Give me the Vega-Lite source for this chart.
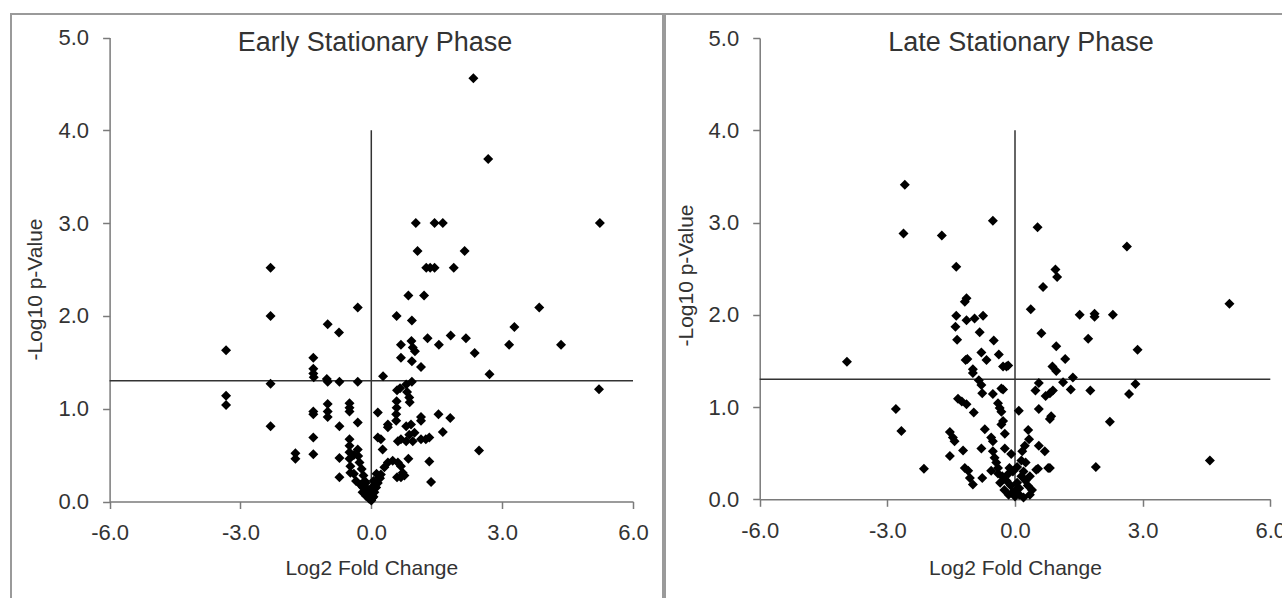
{
"$schema": "https://vega.github.io/schema/vega-lite/v6.json",
"padding": {"left": 10, "top": 13, "right": 0, "bottom": 0},
"spacing": 0,
"config": {
  "font": "Liberation Sans, Arial, sans-serif",
  "axis": {"labelFont": "Liberation Sans, Arial, sans-serif", "labelFontSize": 22, "labelColor": "#333333", "titleFont": "Liberation Sans, Arial, sans-serif", "titleFontSize": 21, "titleFontWeight": "normal", "titleColor": "#333333", "domainColor": "#7a7a7a", "domainWidth": 1.5, "tickColor": "#7a7a7a", "tickWidth": 1.5, "tickSize": 7, "grid": false, "labelFlush": false, "labelOverlap": false},
  "title": {"font": "Liberation Sans, Arial, sans-serif", "fontSize": 27, "fontWeight": "normal", "color": "#333333"}
},
"datasets": {
"early": [
{"lfc":2.34,"nlp":4.56},{"lfc":2.68,"nlp":3.69},{"lfc":5.24,"nlp":3.0},{"lfc":1.02,"nlp":3.0},{"lfc":1.45,"nlp":3.0},{"lfc":1.64,"nlp":3.0},{"lfc":1.06,"nlp":2.70},{"lfc":2.14,"nlp":2.70},{"lfc":1.26,"nlp":2.52},{"lfc":1.35,"nlp":2.52},{"lfc":1.45,"nlp":2.52},{"lfc":1.89,"nlp":2.52},{"lfc":-2.31,"nlp":2.52},{"lfc":0.85,"nlp":2.22},{"lfc":1.21,"nlp":2.22},{"lfc":-0.31,"nlp":2.09},{"lfc":3.85,"nlp":2.09},{"lfc":-2.31,"nlp":2.00},{"lfc":0.58,"nlp":2.00},{"lfc":0.93,"nlp":1.95},{"lfc":-1.00,"nlp":1.91},{"lfc":-0.74,"nlp":1.82},{"lfc":3.28,"nlp":1.88},{"lfc":-3.33,"nlp":1.63},{"lfc":1.29,"nlp":1.76},{"lfc":1.55,"nlp":1.69},{"lfc":1.82,"nlp":1.79},{"lfc":2.17,"nlp":1.76},{"lfc":2.37,"nlp":1.60},{"lfc":3.16,"nlp":1.69},{"lfc":4.35,"nlp":1.69},{"lfc":0.68,"nlp":1.69},{"lfc":0.92,"nlp":1.73},{"lfc":0.95,"nlp":1.66},{"lfc":1.0,"nlp":1.62},{"lfc":0.68,"nlp":1.55},{"lfc":0.93,"nlp":1.51},{"lfc":1.14,"nlp":1.45},{"lfc":0.27,"nlp":1.35},{"lfc":2.71,"nlp":1.37},{"lfc":5.22,"nlp":1.21},
{"lfc":-1.33,"nlp":1.55},{"lfc":-1.33,"nlp":1.43},{"lfc":-1.33,"nlp":1.38},{"lfc":-1.32,"nlp":1.34},{"lfc":-1.02,"nlp":1.32},{"lfc":-1.0,"nlp":1.29},{"lfc":-0.73,"nlp":1.29},{"lfc":-0.31,"nlp":1.29},{"lfc":-2.31,"nlp":1.27},{"lfc":-3.33,"nlp":1.14},{"lfc":-3.33,"nlp":1.04},
{"lfc":0.93,"nlp":1.29},{"lfc":0.80,"nlp":1.26},{"lfc":0.66,"nlp":1.22},{"lfc":0.59,"nlp":1.20},{"lfc":0.82,"nlp":1.18},{"lfc":0.87,"nlp":1.12},{"lfc":0.58,"nlp":1.08},{"lfc":0.88,"nlp":1.07},{"lfc":0.58,"nlp":1.01},{"lfc":0.57,"nlp":0.94},{"lfc":0.57,"nlp":0.87},
{"lfc":1.14,"nlp":0.91},{"lfc":1.14,"nlp":0.87},{"lfc":1.54,"nlp":0.94},{"lfc":1.81,"nlp":0.90},{"lfc":1.64,"nlp":0.75},
{"lfc":-1.00,"nlp":1.05},{"lfc":-1.00,"nlp":0.97},{"lfc":-1.00,"nlp":0.91},{"lfc":-1.33,"nlp":0.97},{"lfc":-1.33,"nlp":0.94},
{"lfc":-0.50,"nlp":1.06},{"lfc":-0.50,"nlp":1.01},{"lfc":-0.50,"nlp":0.97},{"lfc":-0.31,"nlp":0.85},{"lfc":-0.73,"nlp":0.81},{"lfc":-2.31,"nlp":0.81},{"lfc":-1.33,"nlp":0.69},{"lfc":-1.33,"nlp":0.51},{"lfc":-1.74,"nlp":0.52},{"lfc":-1.74,"nlp":0.46},
{"lfc":0.15,"nlp":0.96},{"lfc":0.38,"nlp":0.83},{"lfc":0.38,"nlp":0.80},{"lfc":0.80,"nlp":0.81},{"lfc":0.91,"nlp":0.83},{"lfc":0.99,"nlp":0.74},{"lfc":0.87,"nlp":0.72},{"lfc":0.68,"nlp":0.67},{"lfc":0.61,"nlp":0.65},{"lfc":0.80,"nlp":0.65},{"lfc":0.95,"nlp":0.65},{"lfc":1.14,"nlp":0.67},{"lfc":1.25,"nlp":0.67},{"lfc":1.33,"nlp":0.69},{"lfc":0.15,"nlp":0.69},{"lfc":0.22,"nlp":0.67},{"lfc":0.26,"nlp":0.56},
{"lfc":0.85,"nlp":0.46},{"lfc":1.33,"nlp":0.43},{"lfc":1.37,"nlp":0.21},{"lfc":2.47,"nlp":0.55},
{"lfc":-0.73,"nlp":0.47},{"lfc":-0.73,"nlp":0.26},
{"lfc":-0.50,"nlp":0.67},{"lfc":-0.50,"nlp":0.60},{"lfc":-0.50,"nlp":0.53},{"lfc":-0.50,"nlp":0.46},{"lfc":-0.48,"nlp":0.38},{"lfc":-0.48,"nlp":0.31},
{"lfc":-0.31,"nlp":0.56},{"lfc":-0.30,"nlp":0.49},{"lfc":-0.27,"nlp":0.42},{"lfc":-0.22,"nlp":0.35},{"lfc":-0.18,"nlp":0.28},{"lfc":-0.13,"nlp":0.20},{"lfc":-0.10,"nlp":0.14},
{"lfc":-0.08,"nlp":0.12},{"lfc":-0.01,"nlp":0.08},{"lfc":0.03,"nlp":0.04},{"lfc":0.07,"nlp":0.10},{"lfc":0.11,"nlp":0.15},{"lfc":0.15,"nlp":0.20},{"lfc":0.18,"nlp":0.26},{"lfc":0.22,"nlp":0.29},{"lfc":0.30,"nlp":0.37},{"lfc":0.38,"nlp":0.42},{"lfc":0.49,"nlp":0.44},{"lfc":0.61,"nlp":0.42},{"lfc":0.68,"nlp":0.38},{"lfc":0.72,"nlp":0.31},{"lfc":0.68,"nlp":0.26},{"lfc":0.76,"nlp":0.28},{"lfc":0.59,"nlp":0.26},
{"lfc":-0.05,"nlp":0.03},{"lfc":0.0,"nlp":0.01},{"lfc":0.05,"nlp":0.05},{"lfc":-0.19,"nlp":0.15},{"lfc":0.03,"nlp":0.16},{"lfc":0.12,"nlp":0.30},{"lfc":0.20,"nlp":0.25},{"lfc":0.05,"nlp":0.22},{"lfc":-0.04,"nlp":0.06},{"lfc":0.02,"nlp":0.10},{"lfc":-0.15,"nlp":0.22},
{"lfc":-0.40,"nlp":0.50},{"lfc":-0.40,"nlp":0.30},{"lfc":-0.35,"nlp":0.22},{"lfc":-0.25,"nlp":0.18},{"lfc":-0.20,"nlp":0.10},{"lfc":-0.12,"nlp":0.06}
],
"late": [
{"lfc":-2.59,"nlp":3.41},{"lfc":-2.62,"nlp":2.88},{"lfc":-1.72,"nlp":2.86},{"lfc":-0.52,"nlp":3.02},{"lfc":0.53,"nlp":2.95},{"lfc":2.63,"nlp":2.74},{"lfc":-1.38,"nlp":2.52},{"lfc":0.95,"nlp":2.49},{"lfc":0.99,"nlp":2.41},{"lfc":0.66,"nlp":2.30},{"lfc":-1.14,"nlp":2.18},{"lfc":-1.18,"nlp":2.14},{"lfc":5.04,"nlp":2.12},{"lfc":0.37,"nlp":2.06},
{"lfc":-1.38,"nlp":1.99},{"lfc":-1.14,"nlp":1.94},{"lfc":-0.95,"nlp":1.96},{"lfc":-0.75,"nlp":1.99},{"lfc":-1.40,"nlp":1.87},{"lfc":-1.36,"nlp":1.73},{"lfc":-0.83,"nlp":1.81},{"lfc":-0.50,"nlp":1.72},{"lfc":-1.16,"nlp":1.51},{"lfc":-1.12,"nlp":1.52},{"lfc":-0.79,"nlp":1.59},{"lfc":-0.67,"nlp":1.51},{"lfc":-0.38,"nlp":1.57},{"lfc":-0.28,"nlp":1.44},{"lfc":-0.16,"nlp":1.45},{"lfc":-0.99,"nlp":1.41},{"lfc":-3.95,"nlp":1.49},
{"lfc":0.62,"nlp":1.80},{"lfc":1.52,"nlp":2.00},{"lfc":1.87,"nlp":1.98},{"lfc":1.87,"nlp":2.01},{"lfc":2.30,"nlp":2.00},{"lfc":1.72,"nlp":1.74},{"lfc":0.97,"nlp":1.66},{"lfc":2.88,"nlp":1.62},{"lfc":1.18,"nlp":1.52},{"lfc":0.88,"nlp":1.44},{"lfc":0.97,"nlp":1.39},{"lfc":1.36,"nlp":1.32},{"lfc":1.13,"nlp":1.27},{"lfc":1.31,"nlp":1.19},{"lfc":0.56,"nlp":1.26},{"lfc":0.48,"nlp":1.18},{"lfc":0.89,"nlp":1.18},{"lfc":0.82,"nlp":1.15},{"lfc":0.72,"nlp":1.12},{"lfc":1.77,"nlp":1.18},{"lfc":2.83,"nlp":1.25},{"lfc":2.68,"nlp":1.14},{"lfc":2.23,"nlp":0.84},{"lfc":0.56,"nlp":0.98},{"lfc":0.85,"nlp":0.90},{"lfc":0.82,"nlp":0.87},{"lfc":0.09,"nlp":0.96},{"lfc":-0.20,"nlp":1.44},{"lfc":-0.28,"nlp":1.19},
{"lfc":-2.80,"nlp":0.98},{"lfc":-2.67,"nlp":0.74},{"lfc":-2.14,"nlp":0.33},{"lfc":-1.34,"nlp":1.09},{"lfc":-1.25,"nlp":1.06},{"lfc":-1.14,"nlp":1.03},{"lfc":-0.97,"nlp":0.94},{"lfc":-1.53,"nlp":0.73},{"lfc":-1.46,"nlp":0.67},{"lfc":-1.42,"nlp":0.63},{"lfc":-1.53,"nlp":0.47},{"lfc":-1.22,"nlp":0.53},{"lfc":-1.18,"nlp":0.34},{"lfc":-1.10,"nlp":0.31},{"lfc":-1.06,"nlp":0.23},{"lfc":-0.99,"nlp":0.16},{"lfc":-0.77,"nlp":0.23},
{"lfc":-0.99,"nlp":1.37},{"lfc":-0.85,"nlp":1.29},{"lfc":-0.79,"nlp":1.24},{"lfc":-0.77,"nlp":1.15},{"lfc":-0.52,"nlp":1.14},{"lfc":-0.32,"nlp":1.20},{"lfc":-0.40,"nlp":1.04},{"lfc":-0.36,"nlp":0.99},{"lfc":-0.32,"nlp":0.95},{"lfc":-0.28,"nlp":0.85},{"lfc":-0.32,"nlp":0.81},{"lfc":-0.71,"nlp":0.76},{"lfc":-0.56,"nlp":0.67},{"lfc":-0.52,"nlp":0.63},{"lfc":-0.24,"nlp":0.71},{"lfc":-0.79,"nlp":0.55},{"lfc":-0.24,"nlp":0.55},{"lfc":-0.52,"nlp":0.52},{"lfc":-0.48,"nlp":0.45},{"lfc":-0.44,"nlp":0.40},{"lfc":-0.40,"nlp":0.34},{"lfc":-0.56,"nlp":0.31},{"lfc":-0.09,"nlp":0.49},
{"lfc":0.31,"nlp":0.75},{"lfc":0.33,"nlp":0.65},{"lfc":0.23,"nlp":0.58},{"lfc":0.17,"nlp":0.52},{"lfc":0.56,"nlp":0.58},{"lfc":0.70,"nlp":0.52},{"lfc":0.15,"nlp":0.42},{"lfc":0.50,"nlp":0.32},{"lfc":0.78,"nlp":0.34},
{"lfc":1.90,"nlp":0.35},{"lfc":4.58,"nlp":0.42},{"lfc":0.82,"nlp":0.34},{"lfc":0.54,"nlp":0.33},{"lfc":-0.13,"nlp":0.34},
{"lfc":-0.30,"nlp":0.25},{"lfc":-0.20,"nlp":0.20},{"lfc":-0.15,"nlp":0.28},{"lfc":-0.10,"nlp":0.15},{"lfc":-0.05,"nlp":0.08},{"lfc":0.0,"nlp":0.03},{"lfc":0.02,"nlp":0.10},{"lfc":0.05,"nlp":0.18},{"lfc":0.10,"nlp":0.12},{"lfc":0.15,"nlp":0.25},{"lfc":0.20,"nlp":0.30},{"lfc":0.25,"nlp":0.20},{"lfc":0.30,"nlp":0.15},{"lfc":0.35,"nlp":0.25},{"lfc":0.40,"nlp":0.10},{"lfc":-0.25,"nlp":0.10},{"lfc":-0.35,"nlp":0.18},{"lfc":-0.40,"nlp":0.28},{"lfc":0.10,"nlp":0.05},{"lfc":-0.05,"nlp":0.30},{"lfc":0.05,"nlp":0.35},{"lfc":0.25,"nlp":0.40},{"lfc":0.35,"nlp":0.05},{"lfc":-0.15,"nlp":0.05},{"lfc":0.20,"nlp":0.02}
]
},
"hconcat": [
{
  "width": 652, "height": 584,
  "view": {"stroke": "#9a9a9a", "strokeWidth": 2, "strokeDash": [1236, 652, 584, 10]},
  "title": {"text": "Early Stationary Phase", "anchor": "middle", "frame": "group", "offset": -64, "baseline": "alphabetic", "dx": 38},
  "layer": [
    {"data": {"values": [{}]}, "mark": {"type": "rule", "color": "#333333", "strokeWidth": 1.5},
     "encoding": {"x": {"datum": 0, "type": "quantitative"}, "y": {"datum": 0, "type": "quantitative"}, "y2": {"datum": 4}}},
    {"data": {"values": [{}]}, "mark": {"type": "rule", "color": "#333333", "strokeWidth": 1.5},
     "encoding": {"x": {"datum": -6, "type": "quantitative"}, "x2": {"datum": 6}, "y": {"datum": 1.3, "type": "quantitative"}}},
    {"data": {"name": "early"},
     "mark": {"type": "point", "shape": "diamond", "filled": true, "size": 100, "color": "#000000", "opacity": 1},
     "encoding": {
       "x": {"field": "lfc", "type": "quantitative",
             "scale": {"domain": [-6, 6], "range": [98.6, 622], "nice": false, "zero": false},
             "axis": {"values": [-6, -3, 0, 3, 6], "labelExpr": "replace(format(datum.value, '.1f'), '\u2212', '-')", "title": "Log2 Fold Change", "offset": -96.5, "labelPadding": 14, "titleY": 67, "titleBaseline": "middle"}},
       "y": {"field": "nlp", "type": "quantitative",
             "scale": {"domain": [0, 5], "range": [487.5, 23.5], "nice": false, "zero": false},
             "axis": {"values": [0, 1, 2, 3, 4, 5], "labelExpr": "format(datum.value, '.1f')", "title": "-Log10 p-Value", "offset": -98.6, "labelPadding": 14, "titleX": -74, "titleY": 275, "titleBaseline": "middle"}}
     }}
  ]
},
{
  "width": 618, "height": 584,
  "view": {"stroke": "#9a9a9a", "strokeWidth": 2, "strokeDash": [618, 1202, 584, 10]},
  "title": {"text": "Late Stationary Phase", "anchor": "middle", "frame": "group", "offset": -64, "baseline": "alphabetic", "dx": 47},
  "layer": [
    {"data": {"values": [{}]}, "mark": {"type": "rule", "color": "#333333", "strokeWidth": 1.5},
     "encoding": {"x": {"datum": 0, "type": "quantitative"}, "y": {"datum": 0, "type": "quantitative"}, "y2": {"datum": 4}}},
    {"data": {"values": [{}]}, "mark": {"type": "rule", "color": "#333333", "strokeWidth": 1.5},
     "encoding": {"x": {"datum": -6, "type": "quantitative"}, "x2": {"datum": 6}, "y": {"datum": 1.3, "type": "quantitative"}}},
    {"data": {"name": "late"},
     "mark": {"type": "point", "shape": "diamond", "filled": true, "size": 100, "color": "#000000", "opacity": 1},
     "encoding": {
       "x": {"field": "lfc", "type": "quantitative",
             "scale": {"domain": [-6, 6], "range": [94.7, 605.3], "nice": false, "zero": false},
             "axis": {"values": [-6, -3, 0, 3, 6], "labelExpr": "replace(format(datum.value, '.1f'), '\u2212', '-')", "title": "Log2 Fold Change", "offset": -98.7, "labelPadding": 14, "titleY": 68.7, "titleBaseline": "middle"}},
       "y": {"field": "nlp", "type": "quantitative",
             "scale": {"domain": [0, 5], "range": [485.3, 24], "nice": false, "zero": false},
             "axis": {"values": [0, 1, 2, 3, 4, 5], "labelExpr": "format(datum.value, '.1f')", "title": "-Log10 p-Value", "offset": -94.7, "labelPadding": 14, "titleX": -73, "titleY": 261, "titleBaseline": "middle"}}
     }}
  ]
}
]
}
